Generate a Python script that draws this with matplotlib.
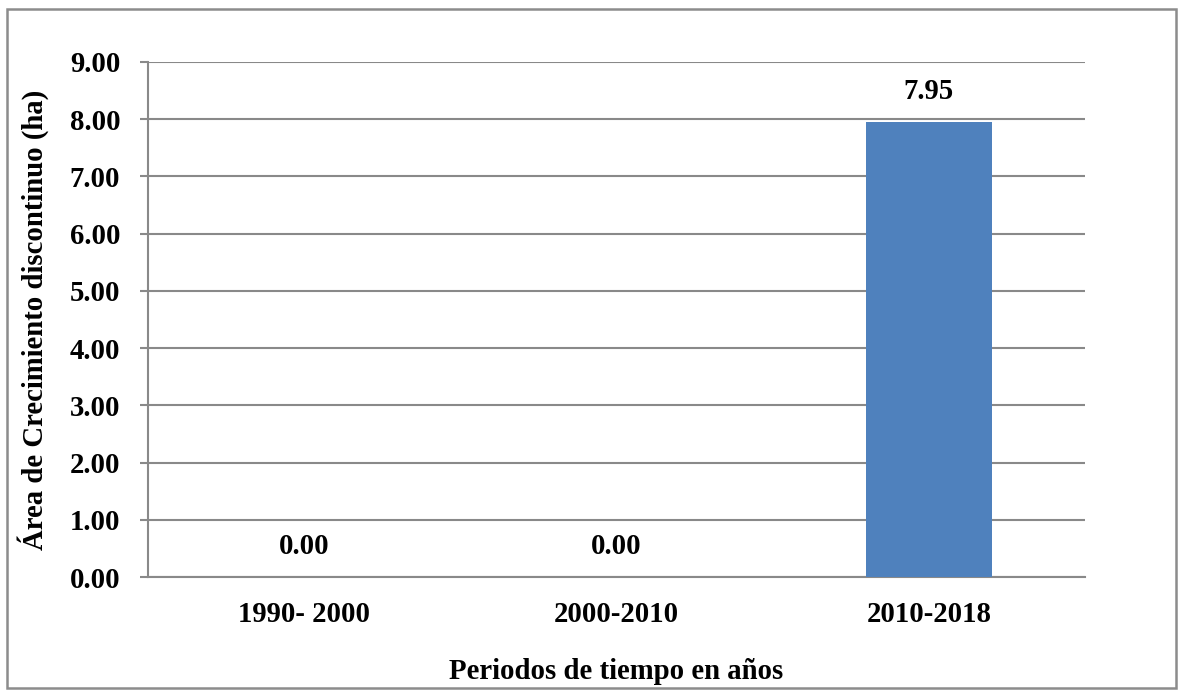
import matplotlib
matplotlib.use('Agg')
import matplotlib.pyplot as plt
from matplotlib.patches import Rectangle

periods = ['1990- 2000', '2000-2010', '2010-2018']
area_ha = [0.00, 0.00, 7.95]
yticks = [0, 1, 2, 3, 4, 5, 6, 7, 8, 9]

plt.rcParams['font.family'] = ['Liberation Serif', 'DejaVu Serif']
plt.rcParams['font.weight'] = 'bold'

W, H = 1183, 693
fs = 20.7
fig = plt.figure(figsize=(W / 100, H / 100), dpi=100)
ax = fig.add_axes([148 / W, (H - 577) / H, (1085 - 148) / W, (577 - 62) / H])

grid_col = '#898989'
x = range(len(periods))
bars = ax.bar(x, area_ha, width=0.405, color='#4F81BD', zorder=3)

for xi, v in zip(x, area_ha):
    ax.annotate(f'{v:.2f}', (xi, v), xytext=(0, 12), textcoords='offset points',
                ha='center', va='bottom', fontsize=fs, fontweight='bold')

ax.set_xlim(-0.5, len(periods) - 0.5)
ax.set_ylim(0, 9)
ax.set_yticks(yticks)
ax.set_yticklabels([f'{t:.2f}' for t in yticks])
ax.set_xticks(list(x))
ax.set_xticklabels(periods)
ax.yaxis.grid(True, color=grid_col, linewidth=1.5, zorder=0)
ax.set_axisbelow(True)

for s in ['top', 'right']:
    ax.spines[s].set_visible(False)
for s in ['left', 'bottom']:
    ax.spines[s].set_color(grid_col)
    ax.spines[s].set_linewidth(1.5)

ax.tick_params(axis='y', length=6, width=1.5, color=grid_col, pad=14, labelsize=fs)
ax.tick_params(axis='x', length=0, pad=17, labelsize=fs)

ax.set_xlabel('Periodos de tiempo en años', fontsize=fs, fontweight='bold', labelpad=22)
ax.set_ylabel('Área de Crecimiento discontinuo (ha)', fontsize=fs, fontweight='bold', labelpad=15)

fig.patches.append(Rectangle((7 / W, 5 / H), 1169 / W, 679 / H, transform=fig.transFigure,
                             fill=False, edgecolor='#8c8c8c', linewidth=1.8))

fig.savefig('out.png', dpi=100)
